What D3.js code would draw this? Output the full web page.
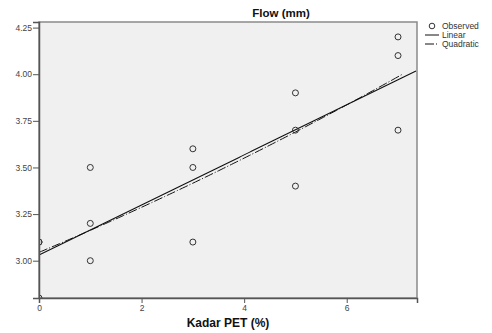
<!DOCTYPE html>
<html>
<head>
<meta charset="utf-8">
<script src="https://cdn.jsdelivr.net/npm/d3@7/dist/d3.min.js"></script>
<style>
  body { margin: 0; background: #fff; }
  svg { font-family: Arial, "Liberation Sans", sans-serif; }
  .tick text { fill: #444; font-size: 8.5px; }
</style>
</head>
<body>
<svg id="chart" width="492" height="333"></svg>
<script>
// Kadar PET (%) levels and observed flow (mm) for each
const kadarPET = [0, 0, 0, 1, 1, 1, 3, 3, 3, 5, 5, 5, 7, 7, 7];
const flow = [3.1, 3.1, 2.8, 3.5, 3.2, 3.0, 3.6, 3.5, 3.1, 3.9, 3.7, 3.4, 4.2, 4.1, 3.7];
const xTicks = [0, 2, 4, 6];
const yTicks = [3.00, 3.25, 3.50, 3.75, 4.00, 4.25];
const legendItems = ['Observed', 'Linear', 'Quadratic'];

const margin = { top: 22, right: 75, bottom: 35, left: 39 };
const svg = d3.select('#chart');
const W = +svg.attr('width'), H = +svg.attr('height');
const width = W - margin.left - margin.right;
const height = H - margin.top - margin.bottom;

const x = d3.scaleLinear().domain([0, 7.37]).range([0, width]);
const y = d3.scaleLinear().domain([2.8, 4.28]).range([height, 0]);

const g = svg.append('g').attr('transform', `translate(${margin.left},${margin.top})`);

g.append('rect')
  .attr('width', width).attr('height', height)
  .attr('fill', '#f0f0f0')
  .attr('stroke', '#8a8a8a').attr('stroke-width', 1.5);

g.append('clipPath').attr('id', 'clip')
  .append('rect').attr('width', width).attr('height', height);

// least squares fits (linear + quadratic)
function fit(deg) {
  const n = deg + 1;
  const A = d3.range(n).map(() => d3.range(n + 1).fill(0));
  kadarPET.forEach((xv, k) => {
    for (let i = 0; i < n; i++) {
      for (let j = 0; j < n; j++) A[i][j] += Math.pow(xv, i + j);
      A[i][n] += Math.pow(xv, i) * flow[k];
    }
  });
  for (let i = 0; i < n; i++) {
    for (let r = i + 1; r < n; r++) {
      const f = A[r][i] / A[i][i];
      for (let c = i; c <= n; c++) A[r][c] -= f * A[i][c];
    }
  }
  const b = new Array(n).fill(0);
  for (let i = n - 1; i >= 0; i--) {
    let s = A[i][n];
    for (let j = i + 1; j < n; j++) s -= A[i][j] * b[j];
    b[i] = s / A[i][i];
  }
  return xv => b.reduce((s, c, i) => s + c * Math.pow(xv, i), 0);
}
const linFit = fit(1), quadFit = fit(2);
const xsLin = d3.range(0, 7.37 + 0.001, 0.05);
const xsQuad = d3.range(0, 7.15, 0.05);

const plot = g.append('g').attr('clip-path', 'url(#clip)');
const line = f => d3.line().x(d => x(d)).y(d => y(f(d)));

plot.append('path').datum(xsQuad)
  .attr('d', line(quadFit))
  .attr('fill', 'none').attr('stroke', '#111').attr('stroke-width', 1)
  .attr('stroke-dasharray', '9,2,1,2');
plot.append('path').datum(xsLin)
  .attr('d', line(linFit))
  .attr('fill', 'none').attr('stroke', '#111').attr('stroke-width', 1.1);

plot.selectAll('circle').data(kadarPET).enter().append('circle')
  .attr('cx', d => x(d))
  .attr('cy', (d, i) => y(flow[i]))
  .attr('r', 3)
  .attr('fill', 'none').attr('stroke', '#333').attr('stroke-width', 1);

// axes
g.append('g')
  .attr('transform', `translate(0,${height})`)
  .call(d3.axisBottom(x).tickValues(xTicks).tickFormat(d3.format('d')).tickSize(5).tickPadding(2))
  .call(a => a.select('.domain').attr('stroke', '#555').attr('stroke-width', 1.5))
  .call(a => a.selectAll('.tick line').attr('stroke', '#555'));

g.append('g')
  .call(d3.axisLeft(y).tickValues(yTicks).tickFormat(d3.format('.2f')).tickSize(6).tickPadding(1))
  .call(a => a.select('.domain').attr('stroke', '#555').attr('stroke-width', 1.5))
  .call(a => a.selectAll('.tick line').attr('stroke', '#555'));

// title and axis label
svg.append('text')
  .attr('x', 281).attr('y', 17)
  .attr('text-anchor', 'middle')
  .attr('font-size', 11.5).attr('font-weight', 'bold').attr('fill', '#111')
  .text('Flow (mm)');

svg.append('text')
  .attr('x', margin.left + width / 2).attr('y', 327)
  .attr('text-anchor', 'middle')
  .attr('font-size', 12).attr('font-weight', 'bold').attr('fill', '#111')
  .text('Kadar PET (%)');

// legend
const lg = svg.append('g').attr('transform', 'translate(424,26)');
const item = lg.selectAll('g').data(legendItems).enter().append('g')
  .attr('transform', (d, i) => `translate(0,${i * 9})`);
item.filter((d, i) => i === 0).append('circle')
  .attr('cx', 8).attr('cy', 0).attr('r', 2.8)
  .attr('fill', 'none').attr('stroke', '#333');
item.filter((d, i) => i > 0).append('line')
  .attr('x1', 1).attr('x2', 15).attr('y1', 0).attr('y2', 0)
  .attr('stroke', '#111')
  .attr('stroke-dasharray', (d, i) => i === 1 ? '9,2,1,2' : null);
item.append('text')
  .attr('x', 18).attr('y', 3)
  .attr('font-size', 8.5).attr('fill', '#333')
  .text(d => d);
</script>
</body>
</html>
